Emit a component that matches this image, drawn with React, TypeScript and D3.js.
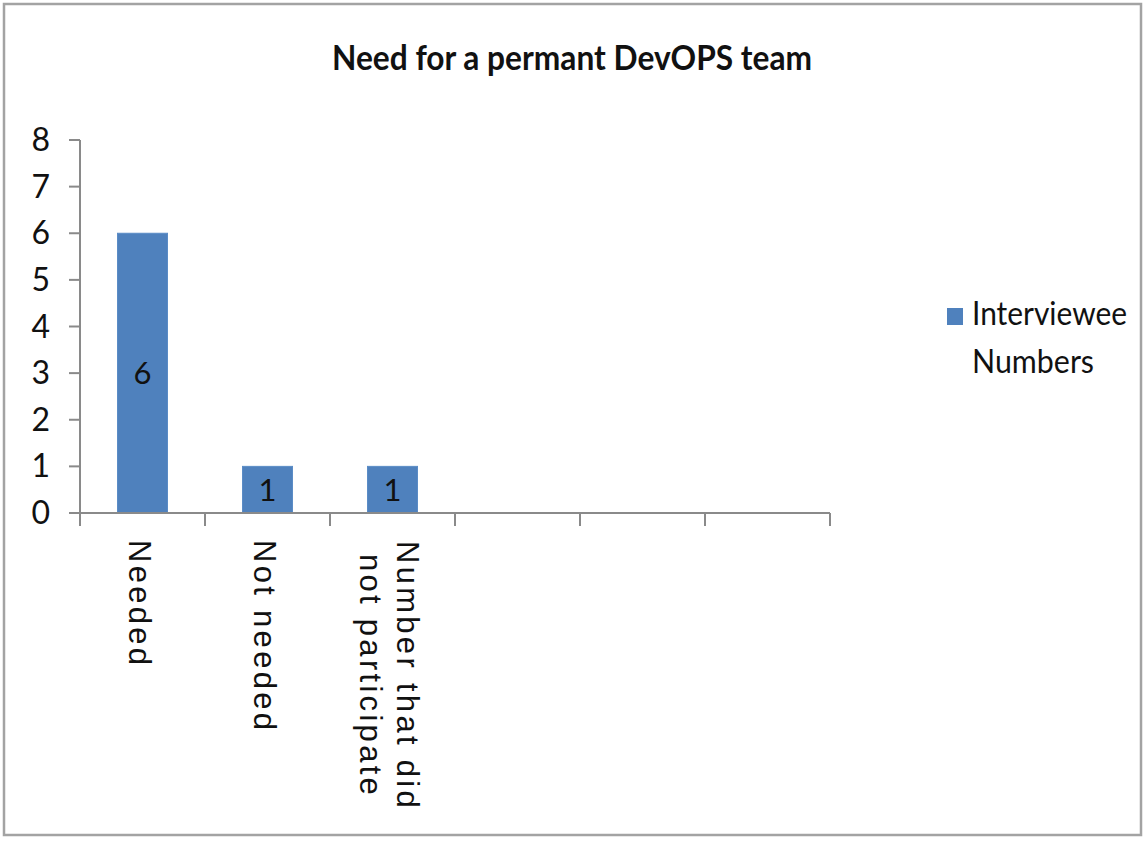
import React from "react";
import * as d3 from "d3";

const TITLE = "Need for a permant DevOPS team";
const CATEGORIES = ["c1", "c2", "c3", "c4", "c5", "c6"];
const CATEGORY_LABELS: string[][] = [
  ["Needed"],
  ["Not needed"],
  ["Number that did", "not participate"],
  [],
  [],
  [],
];
const VALUES: (number | null)[] = [6, 1, 1, null, null, null];
const Y_TICKS = [0, 1, 2, 3, 4, 5, 6, 7, 8];
const SERIES_NAME = ["Interviewee", "Numbers"];

const W = 1146;
const H = 841;
const PLOT = { left: 80, right: 830, top: 140, bottom: 513 };
const BAR_COLOR = "#4F81BD";
const AXIS_COLOR = "#8a8a8a";
const CAL = "Lato, 'Open Sans', sans-serif";

export default function App() {
  const x = d3
    .scaleBand<string>()
    .domain(CATEGORIES)
    .range([PLOT.left, PLOT.right])
    .paddingInner(0.6)
    .paddingOuter(0.3);
  const y = d3.scaleLinear().domain([0, 8]).range([PLOT.bottom, PLOT.top]);
  const step = x.step();
  const boundaries = d3.range(CATEGORIES.length + 1).map((i) => PLOT.left + i * step);

  return (
    <svg
      width={W}
      height={H}
      style={{ position: "absolute", left: 0, top: 0, display: "block", background: "#fff" }}
    >
      <rect x={0} y={0} width={W} height={H} fill="#fff" />
      <rect x={4} y={4} width={1137} height={831} fill="#fff" stroke="#a3a3a3" strokeWidth={2.5} />

      <text
        x={572}
        y={70}
        textAnchor="middle"
        fontFamily={CAL}
        fontWeight="bold"
        fontSize={34}
        fill="#111"
        textLength={480}
        lengthAdjust="spacingAndGlyphs"
      >
        {TITLE}
      </text>

      {/* bars */}
      {VALUES.map((v, i) =>
        v == null ? null : (
          <g key={CATEGORIES[i]}>
            <rect
              x={x(CATEGORIES[i])!}
              y={y(v)}
              width={x.bandwidth()}
              height={y(0) - y(v)}
              fill={BAR_COLOR}
              stroke="#5b8cc6"
              strokeWidth={1}
            />
            <text
              x={x(CATEGORIES[i])! + x.bandwidth() / 2}
              y={(y(v) + y(0)) / 2 + 11}
              textAnchor="middle"
              fontFamily={CAL}
              fontSize={31}
              fill="#111"
            >
              {v}
            </text>
          </g>
        )
      )}

      {/* y axis */}
      <line x1={PLOT.left} x2={PLOT.left} y1={PLOT.top} y2={PLOT.bottom + 13} stroke={AXIS_COLOR} strokeWidth={2} />
      {Y_TICKS.map((t) => (
        <g key={t}>
          <line x1={PLOT.left - 11} x2={PLOT.left} y1={y(t)} y2={y(t)} stroke={AXIS_COLOR} strokeWidth={2} />
          <text
            x={50}
            y={y(t) + 11}
            textAnchor="end"
            fontFamily={CAL}
            fontSize={32}
            fill="#111"
          >
            {t}
          </text>
        </g>
      ))}

      {/* x axis */}
      <line x1={PLOT.left - 11} x2={PLOT.right} y1={PLOT.bottom} y2={PLOT.bottom} stroke={AXIS_COLOR} strokeWidth={2} />
      {boundaries.map((bx, i) => (
        <line key={i} x1={bx} x2={bx} y1={PLOT.bottom} y2={PLOT.bottom + 13} stroke={AXIS_COLOR} strokeWidth={2} />
      ))}

      {/* category labels, rotated */}
      {CATEGORIES.map((c, i) => {
        const lines = CATEGORY_LABELS[i];
        if (!lines.length) return null;
        const center = x(c)! + x.bandwidth() / 2;
        const n = lines.length;
        const fs = 31;
        const ls = 3.3;
        const widths = lines.map((l) => l.length);
        const maxChars = Math.max(...widths);
        return (
          <g key={c}>
            {lines.map((l, j) => {
              const baseline = center - 14 + (n - 1) * 18.5 - j * 37;
              const mid = 540 + (n > 1 ? 136 : 0);
              return (
                <text
                  key={j}
                  transform={`translate(${baseline},${n > 1 ? mid : 540}) rotate(90)`}
                  textAnchor={n > 1 ? "middle" : "start"}
                  fontFamily="'Liberation Sans', Arial, sans-serif"
                  fontSize={fs}
                  letterSpacing={ls}
                  fill="#111"
                  data-max={maxChars}
                >
                  {l}
                </text>
              );
            })}
          </g>
        );
      })}

      {/* legend */}
      <rect x={947} y={308} width={16} height={17} fill={BAR_COLOR} />
      <text
        x={972}
        y={325}
        fontFamily={CAL}
        fontSize={32}
        fill="#111"
        textLength={155}
        lengthAdjust="spacingAndGlyphs"
      >
        {SERIES_NAME[0]}
      </text>
      <text
        x={972}
        y={373}
        fontFamily={CAL}
        fontSize={32}
        fill="#111"
        textLength={122}
        lengthAdjust="spacingAndGlyphs"
      >
        {SERIES_NAME[1]}
      </text>
    </svg>
  );
}
